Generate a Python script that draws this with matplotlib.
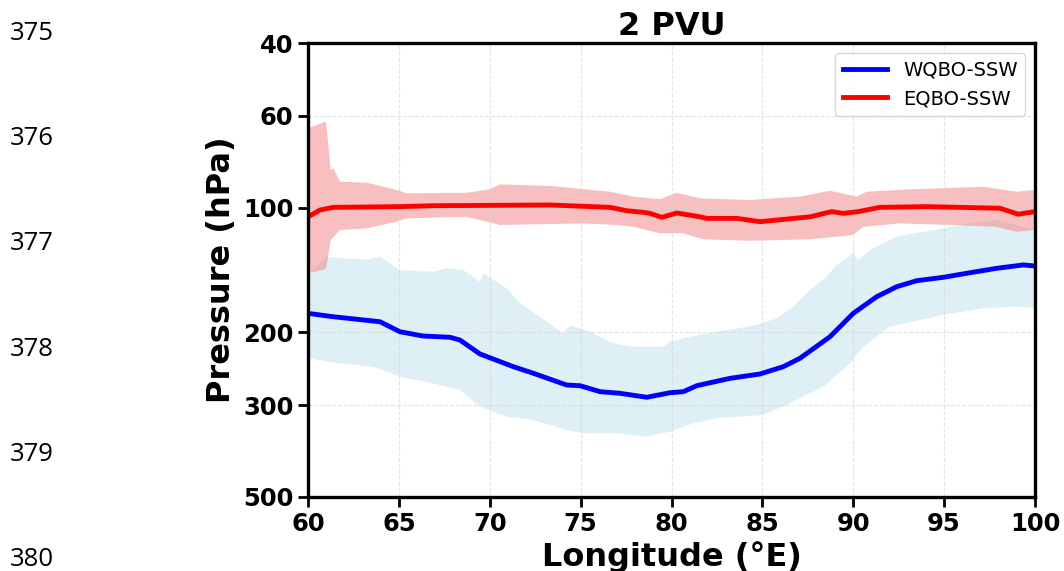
import numpy as np
import matplotlib
matplotlib.use("Agg")
import matplotlib.pyplot as plt

# WQBO-SSW mean 2 PVU pressure (hPa) vs longitude
w_lon = [60.0, 61.39, 63.96, 65.06, 66.34, 67.81, 68.36, 69.46, 71.30, 72.40,
         74.23, 74.97, 76.07, 77.17, 78.64, 79.92, 80.65, 81.39, 83.22, 84.87,
         86.15, 87.07, 88.72, 90.0, 91.29, 92.39, 93.49, 94.95, 96.42, 97.89,
         99.36, 100.0]
w_p = [180.0, 183.4, 188.6, 199.4, 204.2, 205.6, 208.8, 225.6, 242.2, 251.2,
       268.2, 269.2, 278.3, 280.8, 287.1, 279.9, 278.3, 269.2, 258.4, 252.2,
       242.2, 231.1, 205.0, 180.0, 164.1, 155.2, 150.1, 147.3, 143.6, 140.1,
       137.5, 138.3]

# WQBO-SSW spread, upper (low pressure) edge
w_up_lon = [60.0, 61.03, 61.76, 63.23, 63.96, 65.06, 66.89, 67.63, 68.54, 69.46,
            69.65, 70.93, 71.66, 72.76, 74.05, 74.42, 75.52, 76.80, 77.72, 79.55,
            79.92, 81.02, 82.49, 84.69, 85.79, 86.70, 87.62, 88.54, 89.09, 90.0,
            90.27, 90.92, 92.39, 94.40, 96.42, 97.89, 100.0]
w_up_p = [145.4, 131.4, 132.5, 133.3, 131.4, 141.4, 142.8, 140.1, 141.4, 151.0,
          144.0, 156.6, 170.2, 183.4, 201.2, 192.1, 199.4, 212.6, 216.7, 216.7,
          210.8, 205.0, 199.4, 192.1, 185.0, 173.4, 158.1, 146.8, 137.5, 128.9,
          133.8, 126.5, 117.5, 113.2, 109.1, 107.1, 113.2]
# WQBO-SSW spread, lower (high pressure) edge
w_lo_lon = [60.0, 61.76, 63.59, 65.06, 66.89, 68.36, 69.46, 70.93, 72.40, 74.23,
            75.15, 76.98, 78.64, 79.92, 81.20, 82.49, 85.05, 86.52, 88.35, 89.82,
            90.55, 92.02, 94.95, 97.15, 98.99, 100.0]
w_lo_p = [231.1, 237.6, 242.2, 256.1, 265.7, 275.8, 302.4, 319.8, 325.7, 344.4,
          350.8, 350.8, 357.5, 347.7, 331.8, 322.7, 316.8, 296.8, 270.8, 237.6,
          216.7, 193.9, 181.6, 175.0, 173.4, 175.0]

# EQBO-SSW mean
e_lon = [60.0, 60.66, 61.39, 65.06, 66.89, 73.31, 76.62, 77.53, 78.45, 78.82,
         79.46, 80.29, 81.57, 81.94, 83.59, 84.87, 87.62, 88.81, 89.45, 90.28,
         91.47, 94.04, 98.07, 99.08, 100.0]
e_p = [105.2, 101.3, 99.8, 99.4, 98.9, 98.5, 99.8, 101.7, 102.6, 103.2,
       105.5, 103.0, 105.2, 106.1, 106.1, 108.1, 105.2, 102.2, 103.2, 102.2,
       99.8, 99.4, 100.3, 103.7, 102.2]

# EQBO-SSW spread edges
e_up_lon = [60.0, 60.48, 60.99, 61.25, 61.39, 61.76, 63.23, 64.88, 65.43, 68.73,
            70.01, 70.56, 73.31, 76.62, 77.90, 79.37, 80.29, 81.57, 84.32, 87.07,
            88.72, 90.19, 90.74, 93.12, 97.15, 98.99, 100.0]
e_up_p = [64.3, 63.1, 62.0, 81.1, 80.3, 86.5, 87.0, 90.6, 92.3, 92.0,
          90.3, 87.8, 88.6, 91.5, 94.0, 95.4, 92.0, 94.9, 95.8, 94.0,
          91.0, 94.0, 91.5, 90.3, 89.0, 91.5, 90.6]
e_lo_lon = [60.0, 60.99, 61.25, 61.76, 63.23, 64.88, 65.43, 68.73, 70.20, 70.56,
            75.15, 76.98, 77.90, 79.37, 80.65, 81.75, 84.32, 87.62, 90.0, 90.55,
            92.57, 95.32, 97.89, 98.99, 100.0]
e_lo_p = [144.0, 140.6, 119.7, 113.2, 112.2, 108.1, 106.1, 105.2, 109.1, 110.1,
          109.1, 110.1, 111.2, 115.3, 115.3, 119.2, 120.2, 119.2, 116.4, 111.2,
          109.1, 110.1, 111.2, 114.3, 113.2]

yticks = [40, 60, 100, 200, 300, 500]
xticks = [60, 65, 70, 75, 80, 85, 90, 95, 100]
line_nums = ["375", "376", "377", "378", "379", "380"]

fig = plt.figure(figsize=(10.64, 5.71), dpi=100)
ax = fig.add_axes([308 / 1064, 74 / 571, 727 / 1064, 454 / 571])

ax.fill(np.concatenate([w_up_lon, w_lo_lon[::-1]]),
        np.concatenate([w_up_p, w_lo_p[::-1]]),
        color='lightblue', alpha=0.4, lw=0)
ax.fill(np.concatenate([e_up_lon, e_lo_lon[::-1]]),
        np.concatenate([e_up_p, e_lo_p[::-1]]),
        color='lightcoral', alpha=0.5, lw=0)
ax.plot(w_lon, w_p, color='blue', lw=3.5, label='WQBO-SSW')
ax.plot(e_lon, e_p, color='red', lw=3.5, label='EQBO-SSW')

ax.set_yscale('log')
ax.set_ylim(500, 40)
ax.set_xlim(60, 100)
ax.set_yticks(yticks)
ax.set_yticklabels([str(t) for t in yticks])
ax.yaxis.set_minor_locator(matplotlib.ticker.NullLocator())
ax.set_xticks(xticks)

ax.grid(True, ls='--', color='lightgray', alpha=0.6, lw=0.8)
for s in ax.spines.values():
    s.set_linewidth(2.4)
ax.tick_params(width=2, length=7, labelsize=17.5)
for lab in ax.get_xticklabels() + ax.get_yticklabels():
    lab.set_fontweight('bold')

ax.set_title('2 PVU', fontsize=23, fontweight='bold')
ax.set_xlabel('Longitude (°E)', fontsize=23, fontweight='bold', labelpad=4)
ax.set_ylabel('Pressure (hPa)', fontsize=23, fontweight='bold', labelpad=4)
ax.legend(loc='upper right', fontsize=14, handlelength=2.3)

for i, n in enumerate(line_nums):
    fig.text(10 / 1064, 1 - (33 + 105.4 * i) / 571, n, fontsize=18.5,
             family='Open Sans', va='center', ha='left')

fig.savefig('out.png', dpi=100)
